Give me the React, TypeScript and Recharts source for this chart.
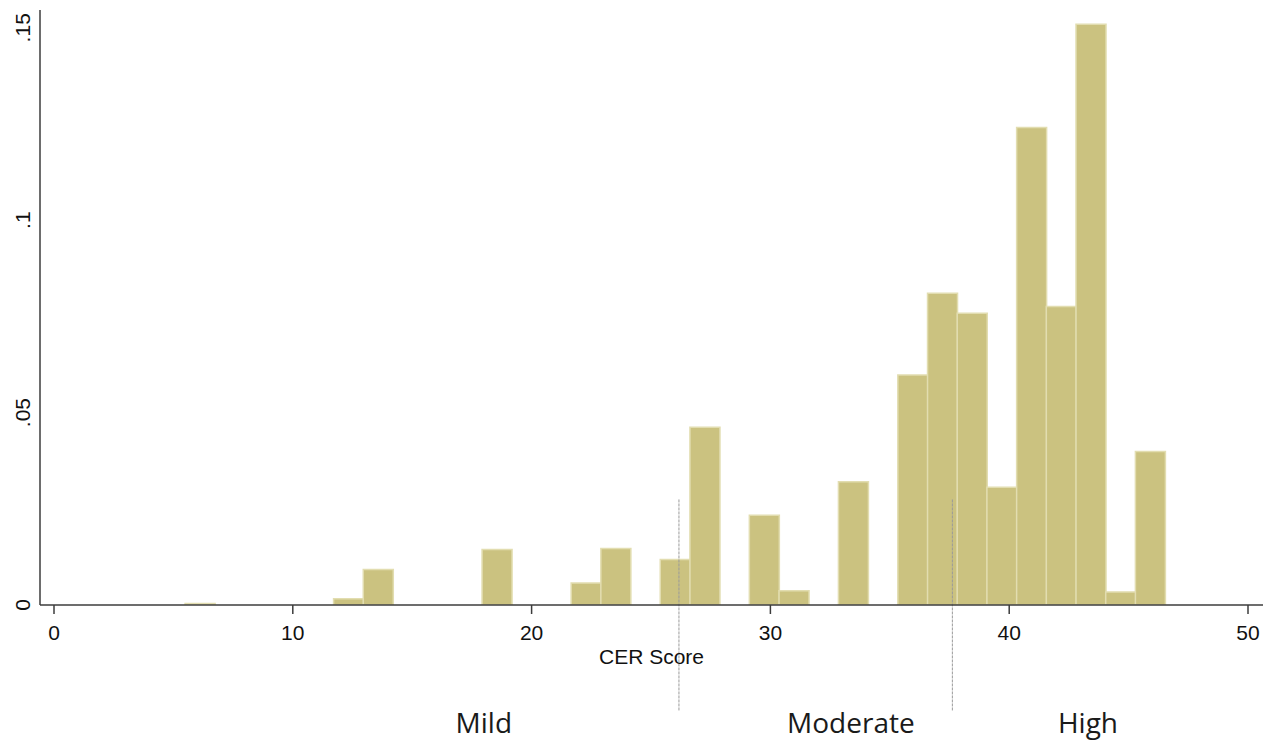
import { BarChart, Bar, XAxis, YAxis, ReferenceLine, ReferenceDot } from "recharts"

// histogram bins: lower edge of the first bin and the bin width (CER score units)
const BIN_START = 5.49
const BIN_WIDTH = 1.2436

// density per bin
const density = [
  0.0004, 0, 0, 0, 0, 0.0016, 0.0092, 0, 0, 0, 0.0144, 0, 0, 0.0057, 0.0147, 0, 0.0118,
  0.0462, 0, 0.0233, 0.0037, 0, 0.032, 0, 0.0598, 0.081, 0.0758, 0.0306, 0.1241, 0.0776,
  0.1509, 0.0034, 0.0399,
]

const xTicks = [0, 10, 20, 30, 40, 50]
const yTicks = [0, 0.05, 0.1, 0.15]
const yTickLabels = ["0", ".05", ".1", ".15"]

// severity cut-offs and the band names under the axis
const cutPoints = [26.17, 37.62]
const cutSpan = [-0.0274, 0.0276]
const bandNames = ["Mild", "Moderate", "High"]
const bandCenters = [18.0, 33.37, 43.3]
const bandLabelY = -0.0332

const data = density.map((d, i) => ({ mid: BIN_START + BIN_WIDTH * (i + 0.5), density: d }))

const AXIS = "#3c3c3c"
const TICK_FONT = { fontFamily: "Liberation Sans, Arial, sans-serif", fontSize: 21, fill: "#111" }

function YTick(props: any) {
  const { x, y, payload } = props
  const label = yTickLabels[yTicks.indexOf(payload.value)] ?? String(payload.value)
  return (
    <text
      x={x}
      y={y}
      transform={`rotate(-90 ${x} ${y})`}
      textAnchor="middle"
      {...TICK_FONT}
    >
      {label}
    </text>
  )
}

function BandLabel(name: string) {
  return (p: any) => (
    <text
      x={p.cx}
      y={p.cy}
      textAnchor="middle"
      fontFamily="Open Sans, sans-serif"
      fontSize={28}
      fill="#1a1a1a"
    >
      {name}
    </text>
  )
}

export default function App() {
  return (
    <div style={{ position: "absolute", left: 0, top: 0, background: "#fff" }}>
      <BarChart
        width={1276}
        height={745}
        data={data}
        barCategoryGap={0}
        barGap={0}
        margin={{ top: 10, right: 13, left: 0, bottom: 80 }}
      >
        <XAxis
          dataKey="mid"
          type="number"
          domain={[0, 50]}
          ticks={xTicks}
          interval={0}
          padding={{ left: 14, right: 15 }}
          height={60}
          stroke={AXIS}
          strokeWidth={1.5}
          tickSize={9}
          tickMargin={11}
          tick={TICK_FONT}
          label={{
            value: "CER Score",
            position: "insideBottom",
            offset: 1,
            style: { ...TICK_FONT, textAnchor: "middle" },
          }}
        />
        <YAxis
          type="number"
          domain={[0, 0.15462]}
          ticks={yTicks}
          interval={0}
          allowDataOverflow
          width={40}
          stroke={AXIS}
          strokeWidth={1.5}
          tickLine={false}
          tickSize={0}
          tickMargin={10}
          tick={<YTick />}
        />
        <Bar
          dataKey="density"
          fill="#CBC280"
          stroke="#E2DDB0"
          strokeWidth={1.5}
          isAnimationActive={false}
        />
        {cutPoints.map((c) => (
          <ReferenceLine
            key={c}
            segment={[
              { x: c, y: cutSpan[0] },
              { x: c, y: cutSpan[1] },
            ]}
            ifOverflow="visible"
            stroke="#9a9a9a"
            strokeWidth={1}
            strokeDasharray="3 1"
          />
        ))}
        {bandNames.map((name, i) => (
          <ReferenceDot
            key={name}
            x={bandCenters[i]}
            y={bandLabelY}
            ifOverflow="visible"
            shape={BandLabel(name)}
          />
        ))}
      </BarChart>
    </div>
  )
}
